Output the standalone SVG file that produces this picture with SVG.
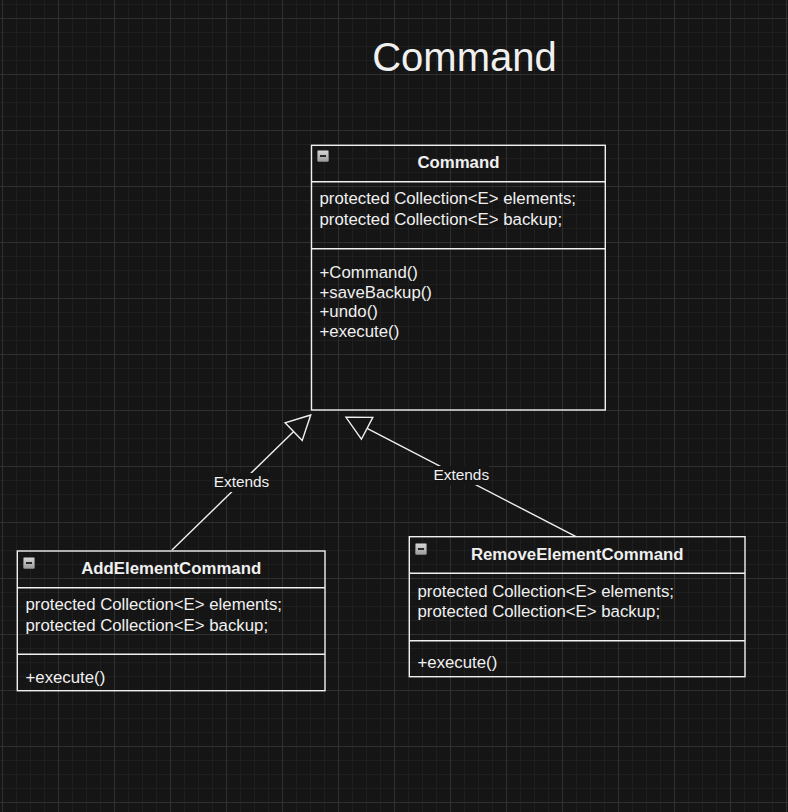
<svg xmlns="http://www.w3.org/2000/svg" width="788" height="812" viewBox="0 0 788 812">
<defs>
<pattern id="minor" patternUnits="userSpaceOnUse" x="2" y="4" width="14" height="14">
<path d="M0.5 0V14M0 0.5H14" stroke="#1f1f1f" stroke-width="1" fill="none"/>
</pattern>
<pattern id="major" patternUnits="userSpaceOnUse" x="2" y="18" width="56" height="56">
<path d="M0.5 0V56M0 0.5H56" stroke="#303030" stroke-width="1" fill="none"/>
</pattern>
<linearGradient id="ig" x1="0" y1="0" x2="0" y2="1">
<stop offset="0" stop-color="#d8d8d8"/>
<stop offset="1" stop-color="#9a9a9a"/>
</linearGradient>
<g id="icon">
<rect x="0.5" y="0.5" width="11" height="11" rx="1" fill="url(#ig)" stroke="#7a7a7a" stroke-width="1"/>
<rect x="3" y="5" width="6" height="2" fill="#2a2a2a"/>
</g>
</defs>
<style>
.box{fill:none;stroke:#f0f0f0;stroke-width:1.4}
.div{stroke:#f0f0f0;stroke-width:1.4}
.t{font-family:"Liberation Sans",Arial,sans-serif;font-size:16.8px;fill:#f0f0f0}
.h{font-family:"Liberation Sans",Arial,sans-serif;font-size:16.8px;font-weight:bold;fill:#f0f0f0;text-anchor:middle}
.edge{stroke:#f0f0f0;stroke-width:1.4;fill:none}
.head{stroke:#f0f0f0;stroke-width:1.4;fill:#151515}
.lbl{font-family:"Liberation Sans",Arial,sans-serif;font-size:15.4px;fill:#f0f0f0;text-anchor:middle}
.lbg{fill:#151515}
</style>
<rect width="788" height="812" fill="#151515"/>
<rect width="788" height="812" fill="url(#minor)"/>
<rect width="788" height="812" fill="url(#major)"/>

<text x="464.5" y="71" font-family="'Liberation Sans',Arial,sans-serif" font-size="40" fill="#f0f0f0" text-anchor="middle">Command</text>

<g id="connectors">
<g id="edge-add">
<path class="edge" d="M172 550L293.65 431.6"/>
<polygon class="head" points="310.7,415 285.1,422.8 302.2,440.4"/>
<rect class="lbg" x="214" y="473" width="55" height="19"/>
<text class="lbl" x="241.5" y="486.5">Extends</text>
</g>
<g id="edge-remove">
<path class="edge" d="M576 536.7L367.1 428.3"/>
<polygon class="head" points="346,417.3 372.8,417.4 361.4,439.2"/>
<rect class="lbg" x="433" y="466" width="56" height="19"/>
<text class="lbl" x="461.3" y="480">Extends</text>
</g>
</g>

<g id="node-command">
<rect class="box" x="311.5" y="145.3" width="293.8" height="264.7"/>
<line class="div" x1="311.5" y1="181.7" x2="605.3" y2="181.7"/>
<line class="div" x1="311.5" y1="248.7" x2="605.3" y2="248.7"/>
<use href="#icon" x="317" y="150"/>
<text class="h" x="458.4" y="167.7">Command</text>
<text class="t" x="319.5" y="204.3">protected Collection&lt;E&gt; elements;</text>
<text class="t" x="319.5" y="224.8">protected Collection&lt;E&gt; backup;</text>
<text class="t" x="319.5" y="277.8">+Command()</text>
<text class="t" x="319.5" y="297.5">+saveBackup()</text>
<text class="t" x="319.5" y="317">+undo()</text>
<text class="t" x="319.5" y="336.7">+execute()</text>
</g>

<g id="node-add">
<rect class="box" x="17.3" y="551" width="307.7" height="139.7"/>
<line class="div" x1="17.3" y1="587.7" x2="325" y2="587.7"/>
<line class="div" x1="17.3" y1="654.3" x2="325" y2="654.3"/>
<use href="#icon" x="23" y="557"/>
<text class="h" x="171.2" y="573.5">AddElementCommand</text>
<text class="t" x="25.5" y="610">protected Collection&lt;E&gt; elements;</text>
<text class="t" x="25.5" y="630.5">protected Collection&lt;E&gt; backup;</text>
<text class="t" x="25.5" y="682.5">+execute()</text>
</g>

<g id="node-remove">
<rect class="box" x="409.3" y="536.7" width="335.7" height="140"/>
<line class="div" x1="409.3" y1="573.3" x2="745" y2="573.3"/>
<line class="div" x1="409.3" y1="640.7" x2="745" y2="640.7"/>
<use href="#icon" x="415" y="543"/>
<text class="h" x="577.2" y="559.5">RemoveElementCommand</text>
<text class="t" x="417.5" y="596.7">protected Collection&lt;E&gt; elements;</text>
<text class="t" x="417.5" y="617.2">protected Collection&lt;E&gt; backup;</text>
<text class="t" x="417.5" y="667.5">+execute()</text>
</g>
</svg>
